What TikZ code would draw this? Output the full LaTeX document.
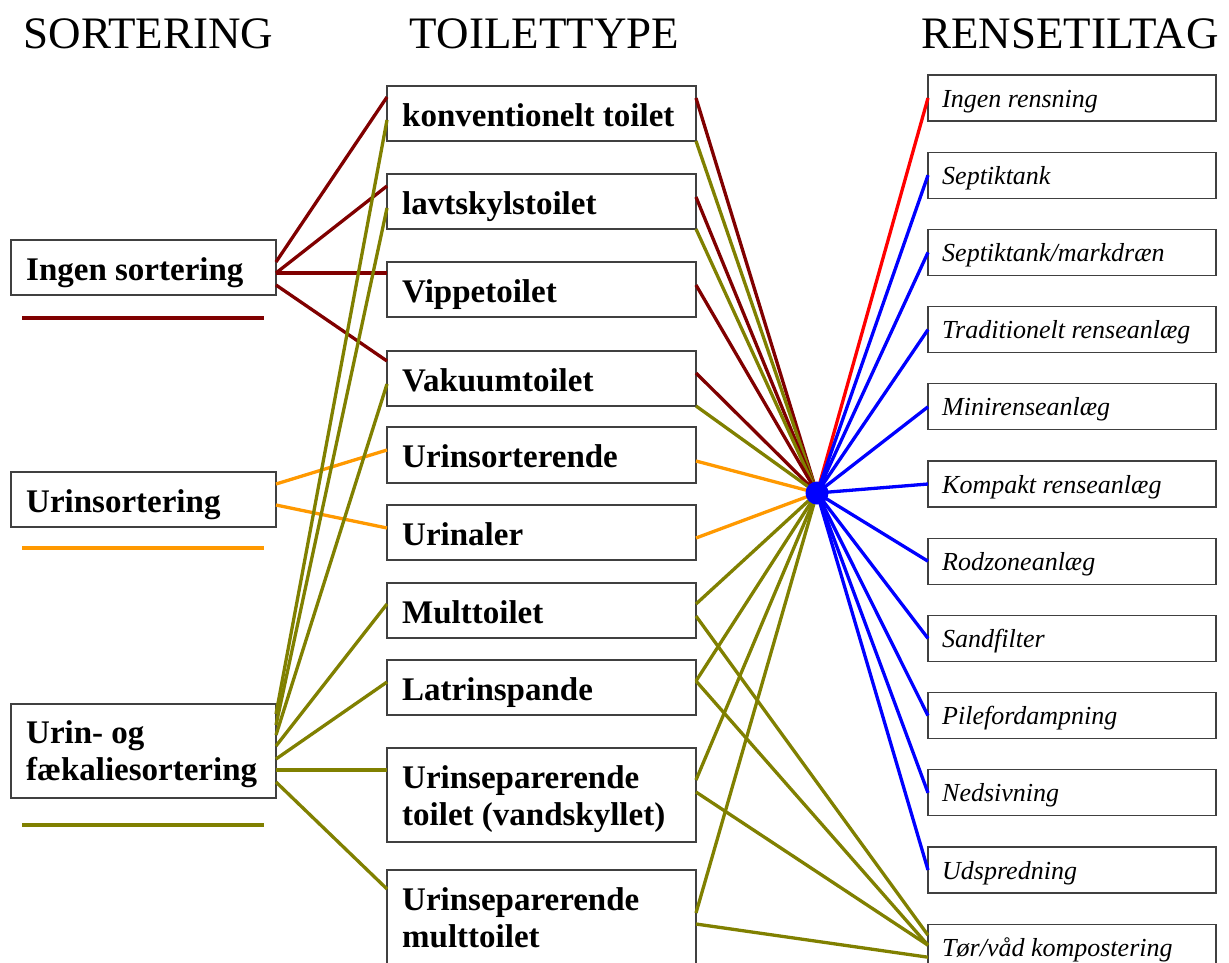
\documentclass[tikz,border=0pt]{standalone}
\usepackage{fontspec}
\setmainfont{Liberation Serif}
\definecolor{cDred}{RGB}{128,0,0}
\definecolor{cOlive}{RGB}{128,128,0}
\definecolor{cOrange}{RGB}{255,153,0}
\definecolor{cBlue}{RGB}{0,0,255}
\definecolor{cRed}{RGB}{255,0,0}
\tikzset{
  frame/.style={draw=black!75, line width=1.3pt, anchor=north west, inner sep=0pt, outer sep=0pt},
  leftbox/.style={frame, minimum width=265pt},
  midbox/.style={frame, minimum width=309pt},
  rightbox/.style={frame, minimum width=288pt, minimum height=46pt},
  head/.style={anchor=base, inner sep=0pt, font=\fontsize{45}{50}\selectfont},
  blbl/.style={anchor=base west, inner sep=0pt, font=\bfseries\fontsize{33}{37}\selectfont},
  ilbl/.style={anchor=base west, inner sep=0pt, font=\itshape\fontsize{26}{30}\selectfont},
  conn/.style={line width=3.3pt},
  uline/.style={line width=4pt},
  hubdot/.style={circle, fill=cBlue, minimum size=23pt, inner sep=0pt}
}
\begin{document}
\begin{tikzpicture}[x=1pt,y=-1pt]
\clip (0,0) rectangle (1229,962);
\fill[white] (0,0) rectangle (1229,962);

% headers
\node[head] (h1) at (148.5,48) {SORTERING};
\node[head] (h2) at (544.5,48) {TOILETTYPE};
\node[head] (h3) at (1070,48) {RENSETILTAG};

% left boxes
\node[leftbox, minimum height=55pt] (ingen) at (11,240) {};
\node[leftbox, minimum height=55pt] (urinsort) at (11,472) {};
\node[leftbox, minimum height=94pt] (faek) at (11,704) {};
\node[blbl] (ingen-t) at ([shift={(15pt,-40pt)}]ingen.north west) {Ingen sortering};
\node[blbl] (urinsort-t) at ([shift={(15pt,-40pt)}]urinsort.north west) {Urinsortering};
\node[blbl] (faek-t) at ([shift={(15pt,-39pt)}]faek.north west) {\begin{tabular}[t]{@{}l@{}}Urin- og\\fækaliesortering\end{tabular}};

% underlines
\coordinate (u1a) at (22,318); \coordinate (u1b) at (264,318);
\coordinate (u2a) at (22,548); \coordinate (u2b) at (264,548);
\coordinate (u3a) at (22,825); \coordinate (u3b) at (264,825);
\draw[uline, cDred] (u1a) -- (u1b);
\draw[uline, cOrange] (u2a) -- (u2b);
\draw[uline, cOlive] (u3a) -- (u3b);

% middle boxes
\node[midbox, minimum height=55pt] (kon) at (387,86) {};
\node[midbox, minimum height=55pt] (lavt) at (387,174) {};
\node[midbox, minimum height=55pt] (vippe) at (387,262) {};
\node[midbox, minimum height=55pt] (vakuum) at (387,351) {};
\node[midbox, minimum height=56pt] (usort) at (387,427) {};
\node[midbox, minimum height=55pt] (urinaler) at (387,505) {};
\node[midbox, minimum height=55pt] (mult) at (387,583) {};
\node[midbox, minimum height=55pt] (latrin) at (387,660) {};
\node[midbox, minimum height=94pt] (usept) at (387,748) {};
\node[midbox, minimum height=94pt] (usepm) at (387,870) {};
\node[blbl] (kon-t) at ([shift={(15pt,-40pt)}]kon.north west) {konventionelt toilet};
\node[blbl] (lavt-t) at ([shift={(15pt,-40pt)}]lavt.north west) {lavtskylstoilet};
\node[blbl] (vippe-t) at ([shift={(15pt,-40pt)}]vippe.north west) {Vippetoilet};
\node[blbl] (vakuum-t) at ([shift={(15pt,-40pt)}]vakuum.north west) {Vakuumtoilet};
\node[blbl] (usort-t) at ([shift={(15pt,-40pt)}]usort.north west) {Urinsorterende};
\node[blbl] (urinaler-t) at ([shift={(15pt,-40pt)}]urinaler.north west) {Urinaler};
\node[blbl] (mult-t) at ([shift={(15pt,-40pt)}]mult.north west) {Multtoilet};
\node[blbl] (latrin-t) at ([shift={(15pt,-40pt)}]latrin.north west) {Latrinspande};
\node[blbl] (usept-t) at ([shift={(15pt,-40pt)}]usept.north west) {\begin{tabular}[t]{@{}l@{}}Urinseparerende\\toilet (vandskyllet)\end{tabular}};
\node[blbl] (usepm-t) at ([shift={(15pt,-40pt)}]usepm.north west) {\begin{tabular}[t]{@{}l@{}}Urinseparerende\\multtoilet\end{tabular}};

% right boxes
\foreach \t [count=\i from 0] in {Ingen rensning, Septiktank, Septiktank/markdræn, Traditionelt renseanlæg, Minirenseanlæg, Kompakt renseanlæg, Rodzoneanlæg, Sandfilter, Pilefordampning, Nedsivning, Udspredning, Tør/våd kompostering}{
  \node[rightbox] (r\i) at (928,{75+77.2*\i}) {};
  \node[ilbl] (r\i-t) at ([shift={(14pt,-32pt)}]r\i.north west) {\t};
}

% left -> middle
\draw[conn, cDred] ([yshift=-22pt]ingen.north east) -- ([yshift=-11pt]kon.north west);
\draw[conn, cDred] ([yshift=-33pt]ingen.north east) -- ([yshift=-12pt]lavt.north west);
\draw[conn, cDred] ([yshift=-33pt]ingen.north east) -- ([yshift=-11pt]vippe.north west);
\draw[conn, cDred] ([yshift=-45pt]ingen.north east) -- ([yshift=-10pt]vakuum.north west);
\draw[conn, cOrange] ([yshift=-12pt]urinsort.north east) -- ([yshift=-23pt]usort.north west);
\draw[conn, cOrange] ([yshift=-33pt]urinsort.north east) -- ([yshift=-23pt]urinaler.north west);
\draw[conn, cOlive] ([yshift=-10pt]faek.north east) -- ([yshift=-34pt]kon.north west);
\draw[conn, cOlive] ([yshift=-21pt]faek.north east) -- ([yshift=-34pt]lavt.north west);
\draw[conn, cOlive] ([yshift=-31pt]faek.north east) -- ([yshift=-33pt]vakuum.north west);
\draw[conn, cOlive] ([yshift=-42pt]faek.north east) -- ([yshift=-21pt]mult.north west);
\draw[conn, cOlive] ([yshift=-55pt]faek.north east) -- ([yshift=-22pt]latrin.north west);
\draw[conn, cOlive] ([yshift=-66pt]faek.north east) -- ([yshift=-22pt]usept.north west);
\draw[conn, cOlive] ([yshift=-78pt]faek.north east) -- ([yshift=-19pt]usepm.north west);

% middle -> hub
\coordinate (hubc) at (817,493);
\draw[conn, cDred] ([yshift=-12pt]kon.north east) -- (hubc);
\draw[conn, cOlive] (kon.south east) -- (hubc);
\draw[conn, cDred] ([yshift=-23pt]lavt.north east) -- (hubc);
\draw[conn, cOlive] (lavt.south east) -- (hubc);
\draw[conn, cDred] ([yshift=-23pt]vippe.north east) -- (hubc);
\draw[conn, cDred] ([yshift=-22pt]vakuum.north east) -- (hubc);
\draw[conn, cOlive] (vakuum.south east) -- (hubc);
\draw[conn, cOrange] ([yshift=-34pt]usort.north east) -- (hubc);
\draw[conn, cOrange] ([yshift=-33pt]urinaler.north east) -- (hubc);
\draw[conn, cOlive] ([yshift=-21pt]mult.north east) -- (hubc);
\draw[conn, cOlive] ([yshift=-21pt]latrin.north east) -- (hubc);
\draw[conn, cOlive] ([yshift=-32pt]usept.north east) -- (hubc);
\draw[conn, cOlive] ([yshift=-43pt]usepm.north east) -- (hubc);

% middle -> composting
\draw[conn, cOlive] ([yshift=-33pt]mult.north east) -- ([yshift=-11pt]r11.north west);
\draw[conn, cOlive] ([yshift=-21pt]latrin.north east) -- ([yshift=-21pt]r11.north west);
\draw[conn, cOlive] ([yshift=-44pt]usept.north east) -- ([yshift=-21pt]r11.north west);
\draw[conn, cOlive] ([yshift=-54pt]usepm.north east) -- ([yshift=-33pt]r11.north west);

% hub -> right
\draw[conn, cRed] (hubc) -- (r0.west);
\foreach \i in {1,...,10}{
  \draw[conn, cBlue] (hubc) -- (r\i.west);
}
\node[hubdot] (hub) at (hubc) {};
\end{tikzpicture}
\end{document}
